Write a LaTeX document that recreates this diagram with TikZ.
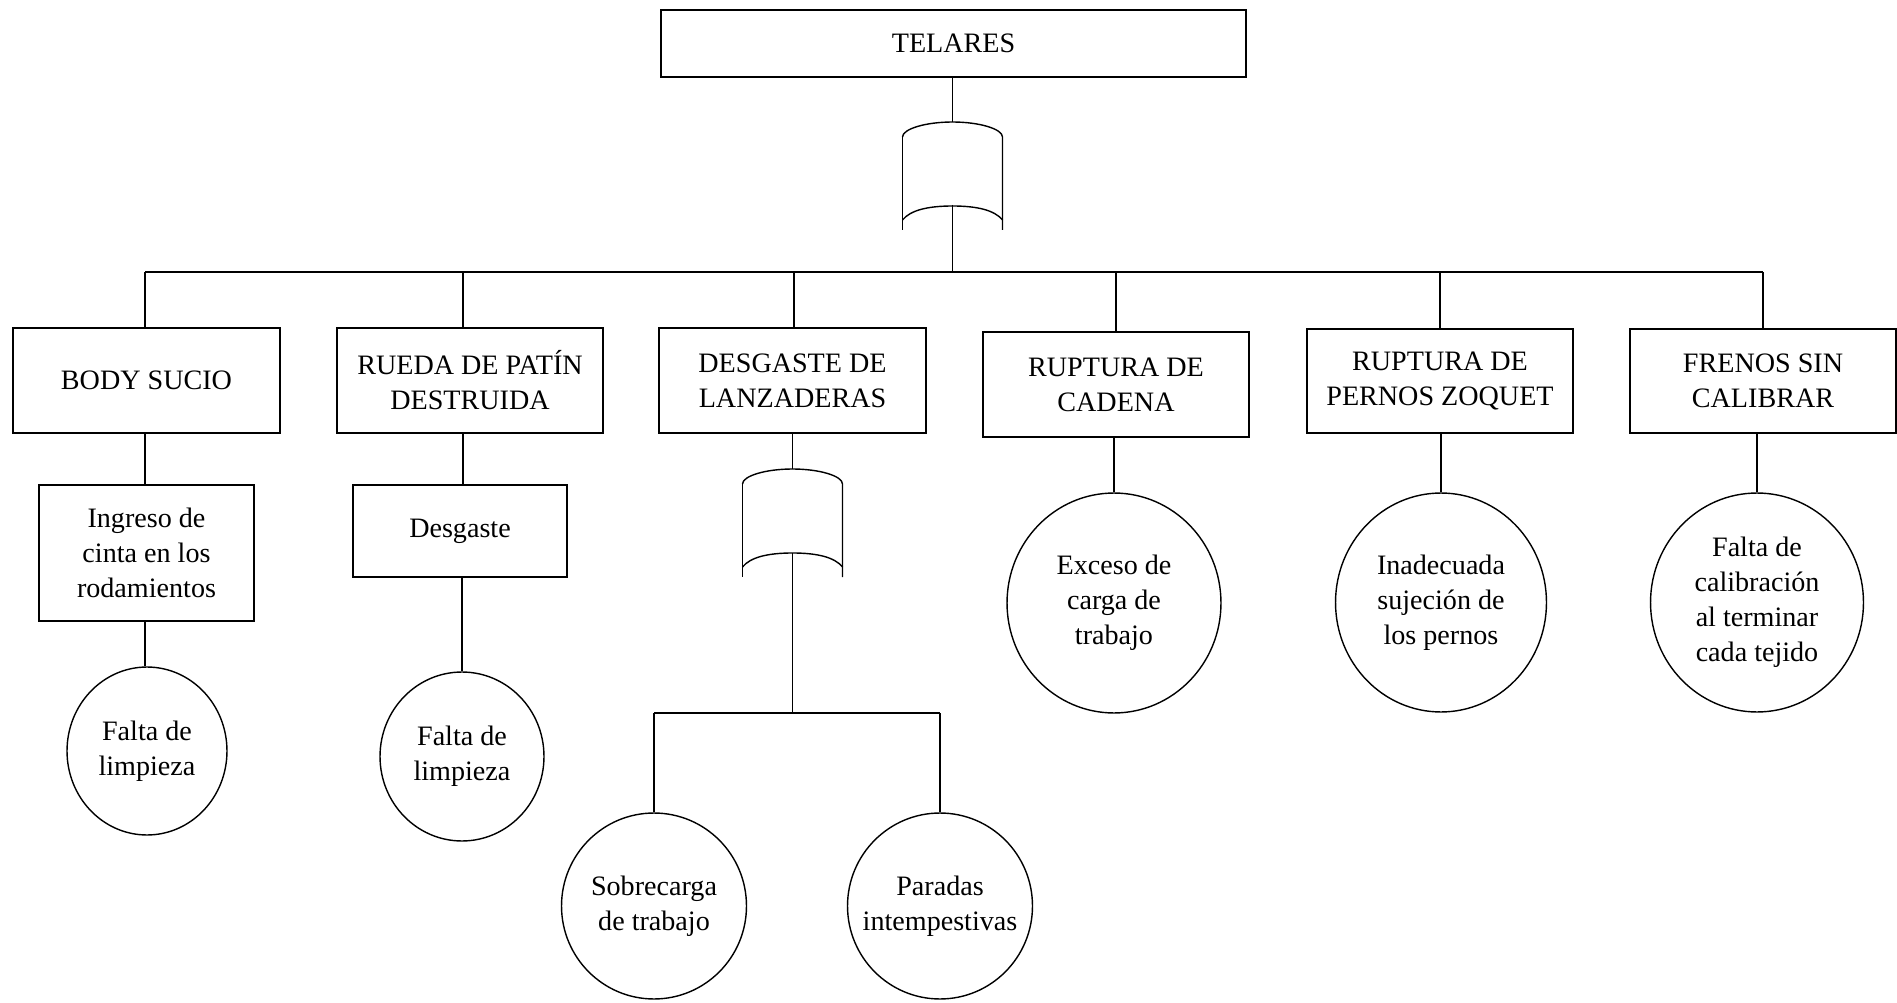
\documentclass[tikz,border=0pt]{standalone}
\usepackage{fontspec}
\setmainfont{Liberation Serif}
\usetikzlibrary{shapes.geometric}
\begin{document}
\begin{tikzpicture}[x=0.02cm, y=-0.02cm, line width=0.8pt,
  every node/.style={font=\fontsize{16}{20}\selectfont, align=center, inner sep=0pt},
  eventbox/.style={draw, rectangle},
  basicev/.style={draw, ellipse, inner xsep=-0.7cm, inner ysep=-0.6cm},
  orgate/.pic={
    \draw (-50,15) .. controls (-50,7) and (-27,0) .. (0,0)
                   .. controls (27,0) and (50,7) .. (50,15) -- (50,108);
    \draw (-50,15) -- (-50,108);
    \draw (-50,98) .. controls (-42,88) and (-24,84) .. (0,84)
                   .. controls (24,84) and (42,88) .. (50,98);
  }]
\useasboundingbox (0,0) rectangle (1897,1003);

% top event
\node[eventbox, minimum width=11.7cm, minimum height=1.34cm] (telares) at (953.5,43.5) {TELARES};

% OR gate under the top event
\pic at (952.5,122) {orgate};
\coordinate (g1in) at (952.5,122);
\coordinate (g1out) at (952.5,205);
\coordinate (bus1) at (952.5,272);

% drop points on the main bus
\coordinate (d1) at (145,272);
\coordinate (d2) at (463,272);
\coordinate (d3) at (794,272);
\coordinate (d4) at (1116,272);
\coordinate (d5) at (1440,272);
\coordinate (d6) at (1763,272);

% intermediate events
\node[eventbox, minimum width=5.34cm, minimum height=2.1cm] (body) at (146.5,380.5) {BODY SUCIO};
\node[eventbox, minimum width=5.32cm, minimum height=2.1cm] (rueda) at (470,380.5) {RUEDA DE PATÍN\\DESTRUIDA};
\node[eventbox, minimum width=5.34cm, minimum height=2.1cm] (lanz) at (792.5,380.5) {DESGASTE DE\\LANZADERAS};
\node[eventbox, minimum width=5.32cm, minimum height=2.1cm] (cadena) at (1116,384.5) {RUPTURA DE\\CADENA};
\node[eventbox, minimum width=5.32cm, minimum height=2.08cm] (pernos) at (1440,381) {RUPTURA DE\\PERNOS ZOQUET};
\node[eventbox, minimum width=5.32cm, minimum height=2.08cm] (frenos) at (1763,381) {FRENOS SIN\\CALIBRAR};

% second-level events
\node[eventbox, minimum width=4.3cm, minimum height=2.72cm] (ingreso) at (146.5,553) {Ingreso de\\cinta en los\\rodamientos};
\node[eventbox, minimum width=4.28cm, minimum height=1.84cm] (desg) at (460,531) {Desgaste};
\coordinate (r2) at (463,0);

% basic events
\node[basicev, minimum width=3.2cm, minimum height=3.36cm] (c1) at (147,751) {Falta de\\limpieza};
\node[basicev, minimum width=3.28cm, minimum height=3.38cm] (c2) at (462,756.5) {Falta de\\limpieza};
\node[basicev, minimum width=4.28cm, minimum height=4.4cm] (exceso) at (1114,603) {Exceso de\\carga de\\trabajo};
\node[basicev, minimum width=4.22cm, minimum height=4.38cm] (inad) at (1441,602.5) {Inadecuada\\sujeción de\\los pernos};
\node[basicev, minimum width=4.26cm, minimum height=4.38cm] (calib) at (1757,602.5) {Falta de\\calibración\\al terminar\\cada tejido};
\node[basicev, minimum width=3.7cm, minimum height=3.72cm] (sobre) at (654,906) {Sobrecarga\\de trabajo};
\node[basicev, minimum width=3.7cm, minimum height=3.72cm] (paradas) at (940,906) {Paradas\\intempestivas};

% OR gate under the shuttle wear event
\pic at (792.5,469) {orgate};
\coordinate (g2in) at (792.5,469);
\coordinate (g2out) at (792.5,553);
\coordinate (bus2) at (792.5,713);
\coordinate (e1) at (654,713);
\coordinate (e2) at (940,713);

% connectors
\draw (g1in |- telares.south) -- (g1in);
\draw (g1out) -- (bus1);
\draw (d1) -- (d6);
\draw (d1) -- (d1 |- body.north);
\draw (d2) -- (d2 |- rueda.north);
\draw (d3) -- (d3 |- lanz.north);
\draw (d4) -- (d4 |- cadena.north);
\draw (d5) -- (d5 |- pernos.north);
\draw (d6) -- (d6 |- frenos.north);

\draw (d1 |- body.south) -- (d1 |- ingreso.north);
\draw (d1 |- ingreso.south) -- (c1.north -| d1);
\draw (r2 |- rueda.south) -- (r2 |- desg.north);
\draw (c2.north |- desg.south) -- (c2.north);

\draw (g2in |- lanz.south) -- (g2in);
\draw (g2out) -- (bus2);
\draw (e1) -- (e2);
\draw (e1) -- (sobre.north);
\draw (e2) -- (paradas.north);

\draw (cadena.south -| exceso.north) -- (exceso.north);
\draw (pernos.south -| inad.north) -- (inad.north);
\draw (frenos.south -| calib.north) -- (calib.north);
\end{tikzpicture}
\end{document}
